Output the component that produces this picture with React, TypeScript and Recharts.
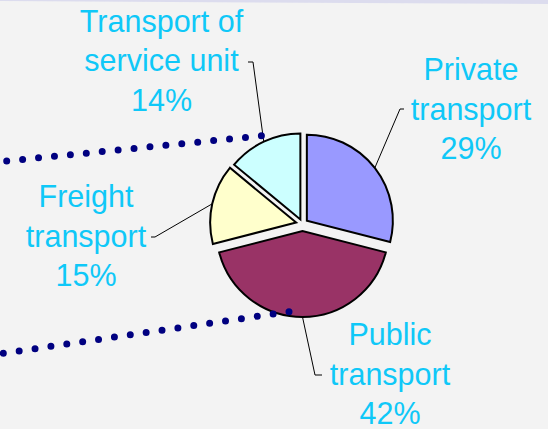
import React from 'react';
import { PieChart, Pie, Cell, Sector } from 'recharts';

// ---- data ----
const CATEGORIES = ['Private transport', 'Public transport', 'Freight transport', 'Transport of service unit'];
const SHARES = [29, 42, 15, 14];
const LABEL_LINES = [
  ['Private', 'transport'],
  ['Public', 'transport'],
  ['Freight', 'transport'],
  ['Transport of', 'service unit'],
];

// ---- styling / layout ----
const COLORS = ['#9999FF', '#993366', '#FFFFCC', '#CCFFFF'];
const EXPLODE = [5.5, 7, 6.5, 5];
const LABEL_LAYOUT = [
  { x: 471, y: 80, leader: [[400, 109], [404, 109]] },
  { x: 390, y: 345, leader: [[315, 375], [322, 375]] },
  { x: 86, y: 207, leader: [[155, 237], [151, 237]] },
  { x: 161.5, y: 31.5, leader: [[253, 62], [248, 62]] },
];
const DOT_LINES = [
  { x1: 6.7, y1: 161, x2: 277.3, y2: 134.3, n: 17 },
  { x1: 3.3, y1: 353.3, x2: 289, y2: 311.7, n: 18 },
];
const FONT = '"Liberation Sans", Arial, sans-serif';
const LABEL_COLOR = '#0FC8F8';
const W = 548;
const H = 429;

const data = CATEGORIES.map((name, i) => ({ name, value: SHARES[i] }));

const RAD = Math.PI / 180;
const shift = (cx: number, cy: number, angle: number, d: number) => [
  cx + d * Math.cos(-angle * RAD),
  cy + d * Math.sin(-angle * RAD),
];

const idxOf = (p: any) => {
  const n = p.name ?? (p.payload && p.payload.name);
  return Math.max(0, CATEGORIES.indexOf(n));
};

const renderSlice = (props: any) => {
  const i = idxOf(props);
  const [x, y] = shift(props.cx, props.cy, props.midAngle, EXPLODE[i]);
  return <Sector {...props} cx={x} cy={y} />;
};

const renderLabel = (props: any) => {
  const i = idxOf(props);
  const { cx, cy, midAngle, outerRadius, percent } = props;
  const [sx, sy] = shift(cx, cy, midAngle, EXPLODE[i]);
  const [px, py] = shift(sx, sy, midAngle, outerRadius);
  const L = LABEL_LAYOUT[i];
  const pts = [[px, py], ...L.leader].map((p) => p.join(',')).join(' ');
  const lines = [...LABEL_LINES[i], `${Math.round(percent * 100)}%`];
  return (
    <g key={`lbl-${i}`}>
      <polyline points={pts} fill="none" stroke="#000" strokeWidth={1} />
      <text textAnchor="middle" fontFamily={FONT} fontSize={30.5} fill={LABEL_COLOR}>
        {lines.map((t, k) => (
          <tspan key={k} x={L.x} y={L.y + k * 39.7}>
            {t}
          </tspan>
        ))}
      </text>
    </g>
  );
};

export default function App() {
  return (
    <div
      style={{
        position: 'fixed',
        left: 0,
        top: 0,
        width: W,
        height: H,
        background: '#F3F3F3',
        overflow: 'hidden',
      }}
    >
      <svg width={W} height={H} style={{ position: 'absolute', left: 0, top: 0 }}>
        <polygon points={`0,0 ${W},0 ${W},4 0,1`} fill="#DCDCEE" />
      </svg>
      <div style={{ position: 'absolute', left: 0, top: 0 }}>
        <PieChart width={W} height={H} margin={{ top: 0, right: 0, bottom: 0, left: 0 }}>
          <Pie
            data={data}
            dataKey="value"
            nameKey="name"
            cx={302.5}
            cy={224}
            outerRadius={86}
            startAngle={90}
            endAngle={-270}
            stroke="#000"
            strokeWidth={2}
            isAnimationActive={false}
            shape={renderSlice}
            label={renderLabel}
            labelLine={false}
          >
            {data.map((_, i) => (
              <Cell key={i} fill={COLORS[i]} stroke="#000" strokeWidth={2} />
            ))}
          </Pie>
        </PieChart>
      </div>
      <svg
        width={W}
        height={H}
        style={{ position: 'absolute', left: 0, top: 0, pointerEvents: 'none' }}
      >
        {DOT_LINES.map((d, k) => {
          const len = Math.hypot(d.x2 - d.x1, d.y2 - d.y1);
          return (
            <line
              key={k}
              x1={d.x1}
              y1={d.y1}
              x2={d.x2}
              y2={d.y2}
              stroke="#000080"
              strokeWidth={7}
              strokeLinecap="round"
              strokeDasharray={`0 ${len / d.n}`}
            />
          );
        })}
      </svg>
    </div>
  );
}
